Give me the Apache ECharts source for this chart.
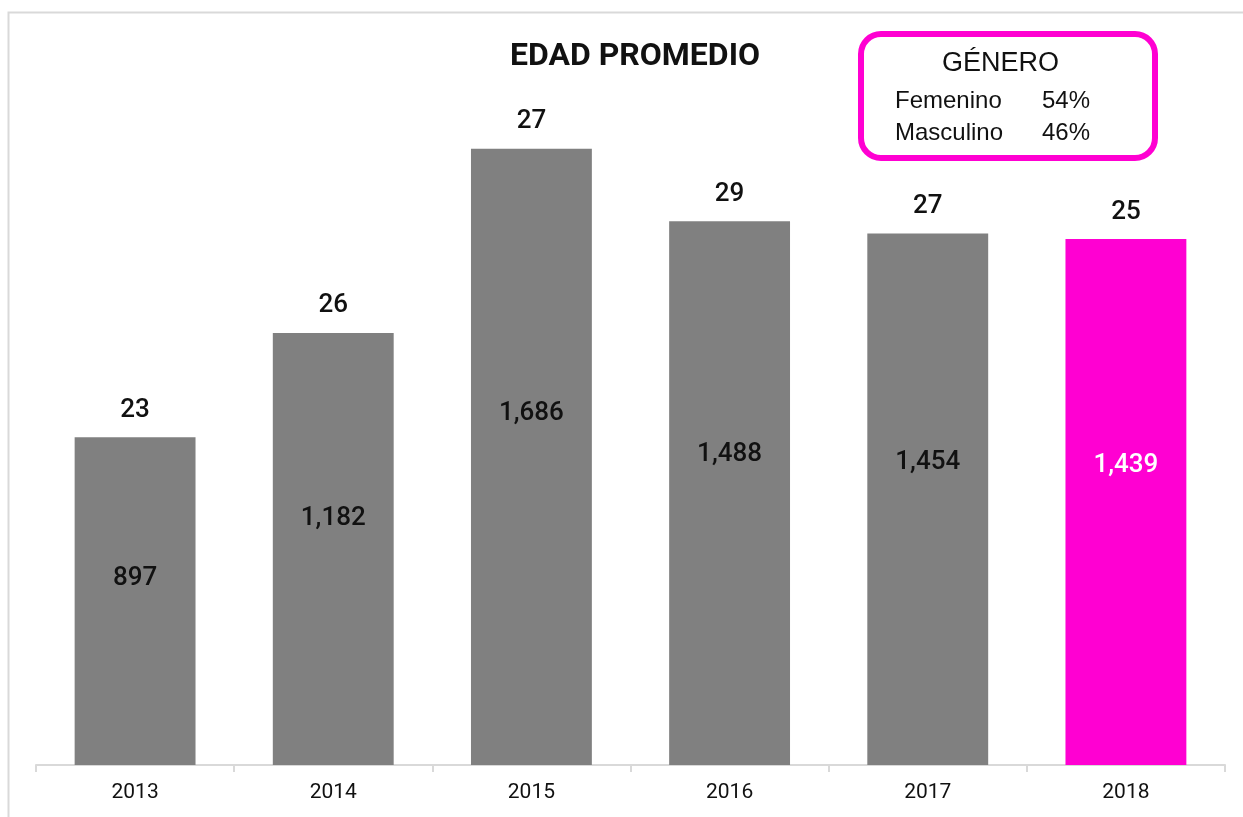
<!DOCTYPE html>
<html>
<head>
<meta charset="utf-8">
<script src="https://cdn.jsdelivr.net/npm/echarts@6/dist/echarts.min.js"></script>
<style>
  html, body { margin: 0; padding: 0; background: #fff; }
  #chart { width: 1243px; height: 817px; }
</style>
</head>
<body>
<div id="chart"></div>
<script>
const years = ['2013', '2014', '2015', '2016', '2017', '2018'];
const counts = [897, 1182, 1686, 1488, 1454, 1439];
const ages = [23, 26, 27, 29, 27, 25];
const genderNames = ['Femenino', 'Masculino'];
const genderPct = [54, 46];

const NARROW = "Roboto, 'Liberation Sans', sans-serif";
const ARIAL = "'Liberation Sans', Arial, sans-serif";
const GRAY = '#808080', PINK = '#ff00d2', LINE = '#d9d9d9';

const chart = echarts.init(document.getElementById('chart'));

const fmt = v => v.toLocaleString('en-US');

chart.setOption({
    animation: false,
    title: {
        text: 'EDAD PROMEDIO', left: 630, top: 36, textAlign: 'center',
        textStyle: { fontFamily: NARROW, fontSize: 32, fontWeight: 'bold', color: '#111' }
    },
    grid: { left: 36, right: 18, top: 34, bottom: 52, outerBoundsMode: 'none' },
    xAxis: {
        type: 'category', data: years,
        axisLine: { lineStyle: { color: LINE, width: 2 } },
        axisTick: { show: true, length: 7, lineStyle: { color: LINE, width: 2 } },
        axisLabel: { color: '#111', fontFamily: NARROW, fontSize: 21, margin: 17 }
    },
    yAxis: { type: 'value', min: 0, max: 2000, show: false, splitLine: { show: false } },
    series: [
        {
            type: 'bar', barWidth: '61%',
            data: counts.map((v, i) => ({
                value: v,
                itemStyle: { color: i === counts.length - 1 ? PINK : GRAY },
                label: { color: i === counts.length - 1 ? '#fff' : '#111' }
            })),
            label: {
                show: true, position: ['50%', '43%'], align: 'center', verticalAlign: 'middle',
                fontFamily: NARROW, fontSize: 26, fontWeight: 500, formatter: p => fmt(p.value)
            }
        },
        {
            // edad promedio encima de cada barra
            type: 'bar', barWidth: '61%', barGap: '-100%', silent: true,
            data: counts,
            itemStyle: { color: 'transparent' },
            label: {
                show: true, position: 'top', distance: 14, color: '#111',
                fontFamily: NARROW, fontSize: 26, fontWeight: 500, formatter: p => ages[p.dataIndex]
            }
        }
    ],
    graphic: [
        {
            type: 'rect', left: 6, top: 10, silent: true,
            shape: { width: 1300, height: 900 },
            style: { fill: 'none', stroke: LINE, lineWidth: 2 }
        },
        {
            type: 'rect', left: 858, top: 31, silent: true,
            shape: { width: 294, height: 124, r: 20 },
            style: { fill: '#fff', stroke: PINK, lineWidth: 6 }
        },
        {
            type: 'text', left: 942, top: 50,
            style: { text: 'GÉNERO', font: '27px ' + ARIAL, fill: '#111' }
        },
        {
            type: 'text', left: 895, top: 89,
            style: { text: genderNames[0], font: '24px ' + ARIAL, fill: '#111' }
        },
        {
            type: 'text', left: 1042, top: 89,
            style: { text: genderPct[0] + '%', font: '24px ' + ARIAL, fill: '#111' }
        },
        {
            type: 'text', left: 895, top: 121,
            style: { text: genderNames[1], font: '24px ' + ARIAL, fill: '#111' }
        },
        {
            type: 'text', left: 1042, top: 121,
            style: { text: genderPct[1] + '%', font: '24px ' + ARIAL, fill: '#111' }
        }
    ]
});
</script>
</body>
</html>
